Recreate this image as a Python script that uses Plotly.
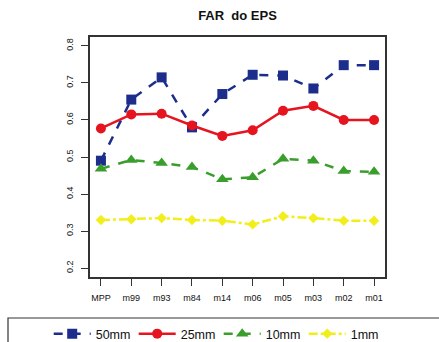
import plotly.graph_objects as go

categories = ["MPP", "m99", "m93", "m84", "m14", "m06", "m05", "m03", "m02", "m01"]
s50 = [0.49, 0.655, 0.715, 0.58, 0.67, 0.722, 0.72, 0.685, 0.748, 0.748]
s25 = [0.577, 0.615, 0.617, 0.585, 0.557, 0.572, 0.625, 0.638, 0.60, 0.60]
s10 = [0.468, 0.492, 0.484, 0.473, 0.44, 0.445, 0.495, 0.49, 0.462, 0.46]
s1 = [0.33, 0.332, 0.335, 0.33, 0.328, 0.318, 0.34, 0.335, 0.328, 0.328]
series_names = ["50mm", "25mm", "10mm", "1mm"]
y_ticks = [0.2, 0.3, 0.4, 0.5, 0.6, 0.7, 0.8]

x = list(range(len(categories)))
fig = go.Figure()
styles = [
    (s50, "#1c2d8c", "square", "dash", 10),
    (s25, "#e5141f", "circle", "solid", 10),
    (s10, "#3a9e2c", "triangle-up", "dash", 11),
    (s1, "#f2ee1c", "diamond", "dashdot", 8),
]
for name, (vals, col, sym, dash, ms) in zip(series_names, styles):
    fig.add_trace(go.Scatter(
        x=x, y=vals, name=name, mode="lines+markers",
        line=dict(color=col, width=2.5, dash=dash),
        marker=dict(color=col, symbol=sym, size=ms),
    ))

fig.update_layout(
    width=439, height=342,
    margin=dict(l=90, r=54, t=37, b=65, autoexpand=False),
    paper_bgcolor="white", plot_bgcolor="white",
    font=dict(family="Liberation Sans, Arial", color="#222"),
    title=dict(text="<b>FAR  do EPS</b>", x=(90 + 385) / 2 / 439, xanchor="center",
               y=1 - 15 / 342, yanchor="middle", font=dict(size=13, color="#111")),
    showlegend=True,
    legend=dict(orientation="h", x=-0.14, xanchor="left", y=-0.175, yanchor="top",
                font=dict(size=12.5, color="#111"), entrywidth=33, entrywidthmode="pixels",
                bgcolor="rgba(0,0,0,0)", itemwidth=37, tracegroupgap=0),
    xaxis=dict(range=[-0.36, 9.36], tickmode="array", tickvals=x, ticktext=categories,
               showgrid=False, zeroline=False, ticks="outside", ticklen=7,
               tickcolor="#333", showline=True, linecolor="#333", linewidth=1.5,
               mirror=True, tickfont=dict(size=9, color="#111"), ticklabelstandoff=4),
    yaxis=dict(range=[0.176, 0.824], tickmode="array", tickvals=y_ticks,
               ticktext=[f"{v:.1f}" for v in y_ticks],
               showgrid=False, zeroline=False, ticks="outside", ticklen=7,
               tickcolor="#333", showline=True, linecolor="#333", linewidth=1.5,
               mirror=True, tickangle=-90, tickfont=dict(size=9, color="#111"),
               ticklabelstandoff=5),
)
fig.add_shape(type="rect", xref="paper", yref="paper",
              x0=(8 - 90) / 295, x1=(445 - 90) / 295,
              y0=(277 - 345) / 240, y1=(277 - 318) / 240,
              line=dict(color="#333", width=1.2), fillcolor="rgba(0,0,0,0)")
fig.write_html("out.html")
